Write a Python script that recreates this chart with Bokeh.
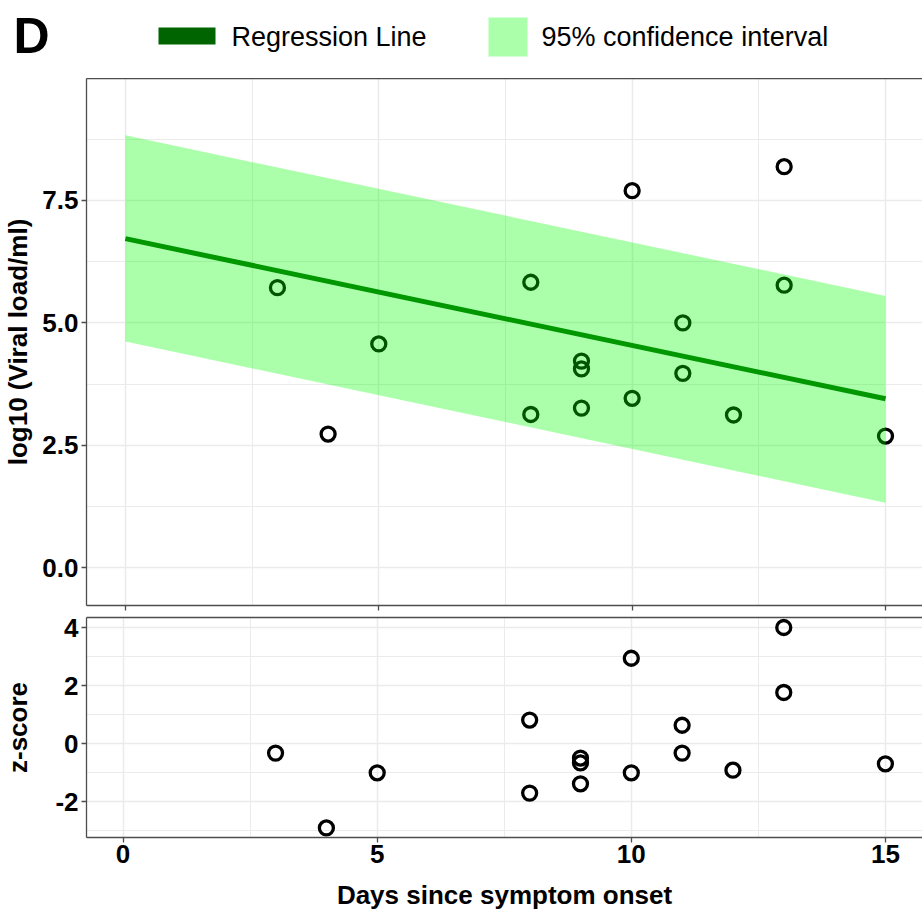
from bokeh.plotting import figure
from bokeh.models import Range1d, FixedTicker, LinearAxis, PrintfTickFormatter
from bokeh.layouts import column
from bokeh.core.properties import value
from bokeh.embed import file_html
from bokeh.resources import INLINE

# ---------------- data ----------------
days = [3, 4, 5, 8, 8, 9, 9, 9, 10, 10, 11, 11, 12, 13, 13, 15]
viral_load = [5.72, 2.73, 4.57, 5.83, 3.13, 4.22, 4.06, 3.26, 7.70, 3.46, 5.00, 3.97, 3.12, 8.19, 5.77, 2.69]
z_score = [-0.32, -2.90, -1.00, 0.82, -1.70, -0.49, -0.66, -1.38, 2.95, -1.00, 0.64, -0.32, -0.91, 4.01, 1.77, -0.69]

fit_days = [0, 15]
fit_line = [6.72, 3.45]
ci_lower = [4.62, 1.33]
ci_upper = [8.83, 5.55]

legend_labels = ["Regression Line", "95% confidence interval"]
panel_tag = "D"
y_title_top = "log10 (Viral load/ml)"
y_title_bottom = "z-score"
x_title = "Days since symptom onset"

top_yticks = [0, 2.5, 5, 7.5]
top_yminor = [1.25, 3.75, 6.25, 8.75]
bot_yticks = [-2, 0, 2, 4]
bot_yminor = [-3, -1, 1, 3]
xticks = [0, 5, 10, 15]
xminor = [2.5, 7.5, 12.5]

# ---------------- styling ----------------
W = 922
FONT = "Liberation Sans"
GRID = "#EBEBEB"
BORDER = "#4D4D4D"
LINE_GREEN = "#006400"
BAND_GREEN = "#00FF00"
BAND_ALPHA = 0.33


def style_axes(p, yticks, yminor, yfmt, show_xlabels):
    xt = FixedTicker(ticks=xticks, minor_ticks=xminor)
    yt = FixedTicker(ticks=yticks, minor_ticks=yminor)
    xa = p.below[0]
    ya = p.left[0]
    xa.ticker = xt
    ya.ticker = yt
    p.xgrid.ticker = xt
    p.ygrid.ticker = yt
    for g in (p.xgrid, p.ygrid):
        g.grid_line_color = GRID
        g.grid_line_width = 1.5
        g.minor_grid_line_color = GRID
        g.minor_grid_line_width = 1
    for ax in (xa, ya):
        ax.axis_line_color = BORDER
        ax.axis_line_width = 1.3
        ax.major_tick_line_color = BORDER
        ax.major_tick_line_width = 1.3
        ax.major_tick_out = 5
        ax.major_tick_in = 0
        ax.minor_tick_line_color = None
        ax.minor_tick_out = 0
        ax.major_label_text_font = FONT
        ax.major_label_text_font_style = "bold"
        ax.major_label_text_font_size = "26px"
        ax.major_label_text_color = "black"
        ax.axis_label_text_font = FONT
        ax.axis_label_text_font_style = "bold"
        ax.axis_label_text_font_size = "26px"
        ax.axis_label_text_color = "black"
    ya.formatter = PrintfTickFormatter(format=yfmt)
    ya.major_label_standoff = 3
    if show_xlabels:
        xa.major_label_standoff = 2
    else:
        xa.major_label_overrides = {t: "" for t in xticks}
        xa.major_label_text_font_size = "1px"
        xa.major_label_standoff = 0
    top_border = LinearAxis(ticker=FixedTicker(ticks=[]),
                            major_tick_line_color=None, minor_tick_line_color=None,
                            major_tick_out=0, minor_tick_out=0, major_label_standoff=0,
                            axis_line_color=BORDER, axis_line_width=1.3)
    p.add_layout(top_border, "above")
    return xa, ya


# ---------------- header (panel tag + legend) ----------------
hdr = figure(width=W, height=78, x_range=Range1d(0, W), y_range=Range1d(78, 0),
             x_axis_type=None, y_axis_type=None, output_backend="svg",
             toolbar_location=None, min_border=0, outline_line_color=None)
hdr.grid.visible = False
hdr.text(x=[13], y=[35], text=[panel_tag], text_font=value(FONT), text_font_style="bold",
         text_font_size="50px", text_baseline="middle", text_color="black")
hdr.quad(left=[158], right=[215], top=[27], bottom=[44], fill_color=LINE_GREEN, line_color=None)
hdr.quad(left=[488], right=[527], top=[17], bottom=[56], fill_color=BAND_GREEN,
         fill_alpha=BAND_ALPHA, line_color=None)
hdr.text(x=[231, 541], y=[36, 36], text=legend_labels, text_font=value(FONT),
         text_font_size="27px", text_baseline="middle", text_color="black")

# ---------------- top panel ----------------
top = figure(width=W, height=533, x_range=Range1d(-0.768, 15.73), y_range=Range1d(-0.77, 9.99),
             output_backend="svg", toolbar_location=None, outline_line_color=None,
             min_border_left=84, min_border_right=0, min_border_top=0, min_border_bottom=6)
txa, tya = style_axes(top, top_yticks, top_yminor, "%.1f", False)
tya.axis_label = y_title_top
tya.axis_label_standoff = 6
top.line(fit_days, fit_line, line_color=LINE_GREEN, line_width=5)
top.scatter(days, viral_load, marker="circle", size=14, fill_color=None,
            line_color="black", line_width=3.3)
top.varea(x=fit_days, y1=ci_lower, y2=ci_upper, fill_color=BAND_GREEN, fill_alpha=BAND_ALPHA)

# ---------------- bottom panel ----------------
bot = figure(width=W, height=308, x_range=Range1d(-0.72, 15.73), y_range=Range1d(-3.23, 4.355),
             output_backend="svg", toolbar_location=None, outline_line_color=None,
             min_border_left=84, min_border_right=0, min_border_top=6, min_border_bottom=82)
bxa, bya = style_axes(bot, bot_yticks, bot_yminor, "%d", True)
bxa.axis_label = x_title
bxa.axis_label_standoff = 14
bya.axis_label = y_title_bottom
bya.axis_label_standoff = 19
bot.scatter(days, z_score, marker="circle", size=14, fill_color=None,
            line_color="black", line_width=3.3)

panels = column(top, bot, spacing=0)
open("out.html", "w").write(file_html([hdr, panels], INLINE))
